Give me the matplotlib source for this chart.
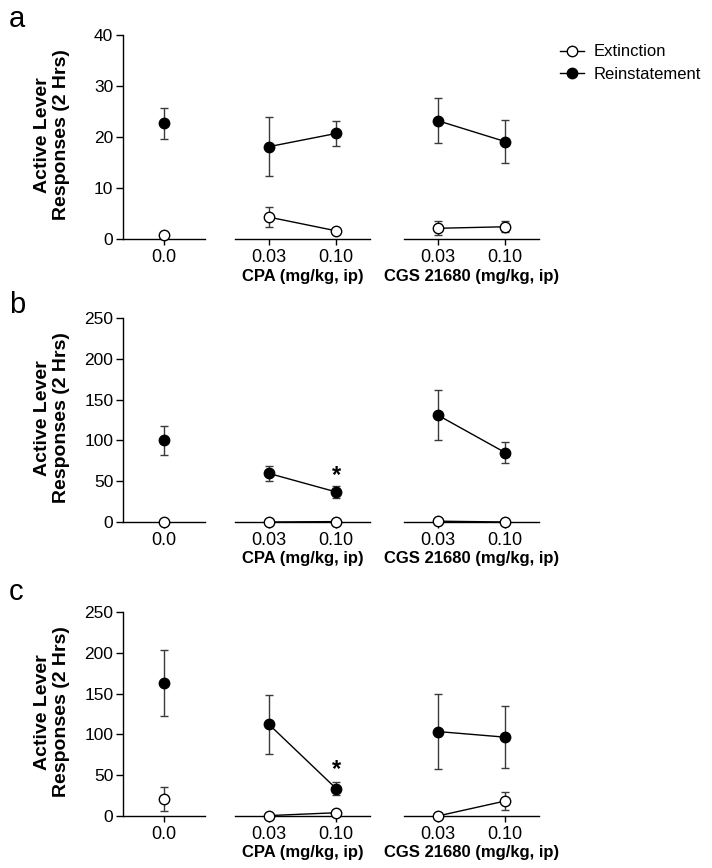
import matplotlib
matplotlib.use("Agg")
import matplotlib.pyplot as plt
from matplotlib.lines import Line2D

plt.rcParams['font.family'] = ['Liberation Sans', 'DejaVu Sans']

# ---------------- data ----------------
panel_letters = ["a", "b", "c"]
y_max = [40, 250, 250]
y_ticks = [[0, 10, 20, 30, 40], [0, 50, 100, 150, 200, 250], [0, 50, 100, 150, 200, 250]]

vehicle_label = ["0.0"]
dose_labels = ["0.03", "0.10"]
drug_names = ["CPA (mg/kg, ip)", "CGS 21680 (mg/kg, ip)"]

# vehicle (mean, sem) per panel
veh_ext = [0.7, 0.0, 21.0]
veh_ext_err = [0.3, 0.0, 15.0]
veh_rein = [22.7, 100.0, 163.0]
veh_rein_err = [3.0, 18.0, 41.0]

# CPA 0.03, 0.10
cpa_ext = [[4.3, 1.6], [0.0, 0.5], [0.5, 4.0]]
cpa_ext_err = [[2.0, 0.3], [0.0, 0.0], [0.0, 1.0]]
cpa_rein = [[18.1, 20.7], [59.6, 36.8], [112.5, 33.5]]
cpa_rein_err = [[5.8, 2.5], [9.6, 6.8], [36.0, 8.0]]

# CGS 21680 0.03, 0.10
cgs_ext = [[2.1, 2.4], [1.0, 0.0], [0.0, 18.4]]
cgs_ext_err = [[1.4, 1.1], [0.0, 0.0], [0.0, 10.5]]
cgs_rein = [[23.2, 19.1], [131.0, 85.0], [103.5, 96.6]]
cgs_rein_err = [[4.4, 4.2], [31.0, 12.7], [46.0, 38.0]]

# significance stars: (panel, drug index, dose index, y)
stars = [(1, 0, 1, 57), (2, 0, 1, 57)]

# ---------------- layout ----------------
W, H = 712, 868
fig = plt.figure(figsize=(W / 100, H / 100), dpi=100)

panel_top = [35, 318, 612]
panel_bot = [239, 522, 816]
letter_baseline = [27, 313, 600]
seg_x = [(123, 205), (235, 370), (404, 539)]

err_color = "#3a3a3a"
ms = 7.5


def plot_series(ax, xs, ys, es, filled):
    ax.errorbar(xs, ys, yerr=es, fmt="none", ecolor=err_color, elinewidth=1.0,
                capsize=3, capthick=1.0, clip_on=False, zorder=2)
    ax.plot(xs, ys, "-", color="black", lw=1.0, marker="o", ms=ms,
            mfc="black" if filled else "white", mec="black", mew=1.0,
            clip_on=False, zorder=3 if filled else 4)


for p in range(3):
    top, bot = panel_top[p], panel_bot[p]
    axes = []
    for s, (x0, x1) in enumerate(seg_x):
        ax = fig.add_axes([x0 / W, 1 - bot / H, (x1 - x0) / W, (bot - top) / H])
        ax.set_ylim(0, y_max[p])
        for sp in ["top", "right"]:
            ax.spines[sp].set_visible(False)
        ax.spines["bottom"].set_linewidth(1.0)
        ax.spines["left"].set_linewidth(1.0)
        ax.tick_params(axis="x", labelsize=13, width=1.0, length=4, direction="out", pad=3)
        ax.tick_params(axis="y", labelsize=12.5, width=1.0, length=5, direction="out", pad=2)
        if s == 0:
            ax.set_xlim(-0.5, 0.5)
            ax.set_xticks([0])
            ax.set_xticklabels(vehicle_label)
            ax.set_yticks(y_ticks[p])
        else:
            ax.set_xlim(-0.5, 1.5)
            ax.set_xticks([0, 1])
            ax.set_xticklabels(dose_labels)
            ax.spines["left"].set_visible(False)
            ax.set_yticks([])
            ax.set_xlabel(drug_names[s - 1], fontsize=12, fontweight="bold", labelpad=2)
        axes.append(ax)

    # vehicle
    plot_series(axes[0], [0], [veh_rein[p]], [veh_rein_err[p]], True)
    plot_series(axes[0], [0], [veh_ext[p]], [veh_ext_err[p]], False)
    # CPA
    plot_series(axes[1], [0, 1], cpa_rein[p], cpa_rein_err[p], True)
    plot_series(axes[1], [0, 1], cpa_ext[p], cpa_ext_err[p], False)
    # CGS
    plot_series(axes[2], [0, 1], cgs_rein[p], cgs_rein_err[p], True)
    plot_series(axes[2], [0, 1], cgs_ext[p], cgs_ext_err[p], False)

    for (sp_i, d_i, dose_i, sy) in stars:
        if sp_i == p:
            axes[d_i + 1].text(dose_i, sy, "*", ha="center", va="center",
                               fontsize=17, fontweight="bold")

    # y label
    fig.text(52 / W, 1 - ((top + bot) / 2 - 2) / H, "Active Lever\nResponses (2 Hrs)",
             rotation=90, ha="center", va="center", multialignment="center",
             fontsize=14, fontweight="bold", linespacing=1.15)
    # panel letter
    fig.text(9 / W, 1 - letter_baseline[p] / H, panel_letters[p], fontsize=21,
             ha="left", va="baseline")

# legend
handles = [
    Line2D([], [], color="black", lw=1.0, marker="o", ms=ms, mfc="white", mec="black"),
    Line2D([], [], color="black", lw=1.0, marker="o", ms=ms, mfc="black", mec="black"),
]
fig.legend(handles, ["Extinction", "Reinstatement"], loc="upper left",
           bbox_to_anchor=(552 / W, 1 - 36 / H), frameon=False, fontsize=12,
           handlelength=1.4, handletextpad=0.6, labelspacing=0.45, borderpad=0)

fig.savefig("out.png", dpi=100, facecolor="white")
